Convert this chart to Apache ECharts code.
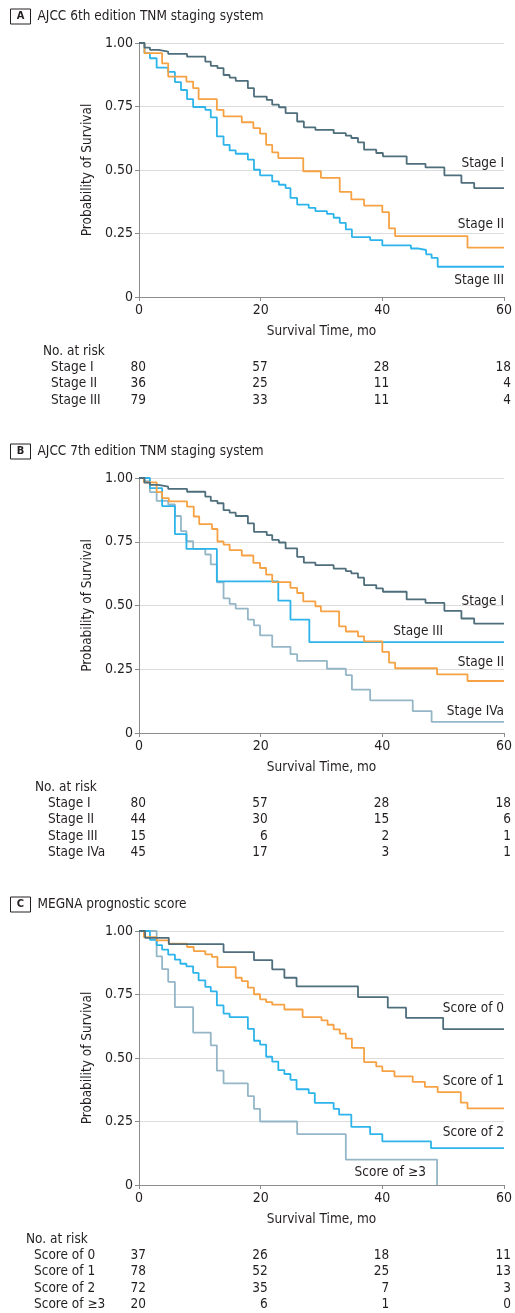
<!DOCTYPE html>
<html>
<head>
<meta charset="utf-8">
<script src="https://cdn.jsdelivr.net/npm/echarts@6/dist/echarts.min.js"></script>
<style>
html, body { margin: 0; padding: 0; background: #fff; }
#chart { width: 515px; height: 1313px; }
</style>
</head>
<body>
<div id="chart"></div>
<script>
// ---- data ----
var riskTimes = [0, 20, 40, 60];

// A: AJCC 6th edition
var groupsA = ['Stage I', 'Stage II', 'Stage III'];
var a6StageI = [[0,1],[0.9,0.982],[1.8,0.973],[3.2,0.966],[4.8,0.957],[7.9,0.946],[10.9,0.927],[11.8,0.910],[12.9,0.901],[13.9,0.874],[14.9,0.864],[15.9,0.851],[17.9,0.822],[18.9,0.789],[21.0,0.776],[21.9,0.757],[23.0,0.747],[24.1,0.724],[26.0,0.691],[27.1,0.668],[29.0,0.658],[32.0,0.645],[34.0,0.635],[34.9,0.626],[36.0,0.609],[37.0,0.580],[39.0,0.567],[40.1,0.554],[44.0,0.524],[47.1,0.510],[50.2,0.479],[53.0,0.449],[55.1,0.429],[60,0.429]];
var a6StageII = [[0,1],[0.9,0.96],[3.8,0.92],[4.8,0.868],[7.8,0.848],[8.9,0.822],[9.8,0.779],[12.8,0.737],[13.9,0.711],[16.9,0.688],[18.8,0.665],[19.9,0.643],[20.9,0.599],[21.9,0.569],[22.9,0.547],[27.0,0.495],[29.9,0.469],[33.0,0.414],[34.9,0.384],[37.0,0.360],[40.0,0.334],[41.1,0.270],[42.1,0.240],[54.0,0.194],[60,0.194]];
var a6StageIII = [[0,1],[0.9,0.96],[1.8,0.94],[2.9,0.903],[4.8,0.886],[5.9,0.846],[6.9,0.815],[7.9,0.779],[8.9,0.748],[10.9,0.737],[11.8,0.707],[12.8,0.632],[13.9,0.599],[14.9,0.577],[15.9,0.564],[17.9,0.541],[18.9,0.501],[19.9,0.479],[21.9,0.455],[23.0,0.442],[24.1,0.429],[24.9,0.390],[26.0,0.364],[27.9,0.351],[29.0,0.338],[30.9,0.327],[32.0,0.312],[33.0,0.292],[34.0,0.266],[35.0,0.236],[38.0,0.224],[40.0,0.203],[44.7,0.191],[45.8,0.185],[47.2,0.168],[48.1,0.154],[49.1,0.119],[60,0.119]];
var riskA = [[80, 57, 28, 18], [36, 25, 11, 4], [79, 33, 11, 4]];

// B: AJCC 7th edition (stage I curve is the same cohort as in A)
var groupsB = ['Stage I', 'Stage II', 'Stage III', 'Stage IVa'];
var b7StageI = a6StageI;
var b7StageII = [[0,1],[0.8,0.983],[2.9,0.945],[3.8,0.921],[4.9,0.908],[7.9,0.888],[9.0,0.849],[9.9,0.819],[12.0,0.800],[12.9,0.751],[13.9,0.739],[14.9,0.717],[16.9,0.696],[18.8,0.667],[19.9,0.647],[20.9,0.621],[21.9,0.592],[24.9,0.569],[26.0,0.549],[27.0,0.516],[29.0,0.497],[29.9,0.477],[32.9,0.418],[34.0,0.398],[36.0,0.379],[37.0,0.359],[40.0,0.318],[41.1,0.276],[42.1,0.254],[49.0,0.230],[54.0,0.204],[60,0.204]];
var b7StageIII = [[0,1],[1.8,0.96],[3.8,0.89],[5.9,0.78],[7.8,0.722],[12.8,0.595],[22.9,0.519],[24.9,0.445],[28.0,0.356],[60,0.356]];
var b7StageIVa = [[0,1],[0.9,0.988],[1.8,0.945],[2.9,0.91],[4.8,0.896],[5.9,0.851],[6.9,0.792],[7.8,0.752],[8.9,0.722],[10.9,0.700],[11.8,0.661],[12.8,0.591],[13.9,0.528],[14.9,0.506],[15.9,0.488],[17.9,0.445],[18.9,0.422],[19.9,0.383],[21.9,0.338],[24.9,0.309],[26.0,0.283],[30.9,0.252],[34.0,0.227],[35.0,0.170],[38.0,0.128],[45.0,0.086],[48.1,0.044],[60,0.044]];
var riskB = [[80, 57, 28, 18], [44, 30, 15, 6], [15, 6, 2, 1], [45, 17, 3, 1]];

// C: MEGNA prognostic score
var groupsC = ['Score of 0', 'Score of 1', 'Score of 2', 'Score of \u22653'];
var cScore0 = [[0,1],[1.0,0.973],[4.9,0.948],[13.9,0.917],[18.9,0.885],[21.9,0.849],[23.9,0.816],[25.9,0.782],[36.0,0.740],[40.9,0.698],[43.9,0.658],[50.0,0.614],[60,0.614]];
var cScore1 = [[0,1],[0.8,0.976],[2.9,0.963],[4.9,0.950],[7.9,0.937],[9.0,0.921],[10.9,0.908],[12.0,0.898],[12.9,0.858],[15.9,0.816],[16.9,0.803],[17.9,0.777],[18.9,0.751],[19.9,0.731],[20.9,0.720],[21.9,0.710],[23.9,0.691],[26.9,0.661],[30.0,0.648],[31.0,0.631],[32.0,0.613],[33.0,0.596],[34.0,0.576],[35.0,0.540],[37.0,0.484],[39.0,0.467],[40.0,0.448],[42.0,0.428],[45.0,0.406],[47.0,0.386],[49.1,0.366],[52.9,0.324],[54.0,0.302],[60,0.302]];
var cScore2 = [[0,1],[1.8,0.965],[2.9,0.944],[3.8,0.927],[4.8,0.907],[5.9,0.887],[6.8,0.871],[7.8,0.861],[8.9,0.835],[9.8,0.806],[10.9,0.780],[11.8,0.762],[12.8,0.707],[13.9,0.675],[14.9,0.661],[17.9,0.615],[18.9,0.568],[19.9,0.553],[20.9,0.505],[21.9,0.486],[22.9,0.452],[23.9,0.437],[24.9,0.414],[25.9,0.377],[27.9,0.362],[28.9,0.323],[32.0,0.300],[32.9,0.277],[34.9,0.229],[38.0,0.200],[40.0,0.172],[48.0,0.145],[60,0.145]];
var cScore3 = [[0,1],[2.9,0.90],[3.8,0.85],[4.8,0.80],[5.9,0.70],[8.9,0.60],[11.8,0.55],[12.8,0.45],[13.9,0.40],[17.9,0.35],[18.9,0.30],[19.9,0.25],[26.0,0.20],[34.0,0.10],[49.0,0]];
var riskC = [[37, 26, 18, 11], [78, 52, 25, 13], [72, 35, 7, 3], [20, 6, 1, 0]];

// ---- styling / layout ----
var FONT = "'Liberation Sans Narrow', 'DejaVu Sans Condensed', 'Noto Sans', sans-serif";
var FS = 13.5;
var TEXT = '#231f20';
var AXIS = '#8c8c8c';
var DARK = '#4e6e7c', ORANGE = '#f6a244', BLUE = '#2db4ea', GRAY = '#94b6c7';

var panels = [
    { letter: 'A', title: 'AJCC 6th edition TNM staging system', top: 43, height: 254,
      curves: [a6StageI, a6StageII, a6StageIII], colors: [DARK, ORANGE, BLUE],
      groups: groupsA, risk: riskA, headX: 43, rowX: 51,
      // label anchor in data units: [month, survival, align]
      labels: [[60, 0.525, 'right'], [60, 0.286, 'right'], [60, 0.066, 'right']] },
    { letter: 'B', title: 'AJCC 7th edition TNM staging system', top: 478, height: 255,
      curves: [b7StageI, b7StageII, b7StageIII, b7StageIVa], colors: [DARK, ORANGE, BLUE, GRAY],
      groups: groupsB, risk: riskB, headX: 35, rowX: 48,
      labels: [[60, 0.515, 'right'], [60, 0.278, 'right'], [45.9, 0.397, 'center'], [60, 0.085, 'right']] },
    { letter: 'C', title: 'MEGNA prognostic score', top: 931, height: 254,
      curves: [cScore0, cScore1, cScore2, cScore3], colors: [DARK, ORANGE, BLUE, GRAY],
      groups: groupsC, risk: riskC, headX: 26, rowX: 34,
      labels: [[60, 0.694, 'right'], [60, 0.406, 'right'], [60, 0.206, 'right'], [41.3, 0.049, 'center']] }
];

var chart = echarts.init(document.getElementById('chart'));

function buildOption() {
    var grid = [], xAxis = [], yAxis = [], series = [];
    panels.forEach(function (p, i) {
        grid.push({ left: 139, top: p.top, width: 368, height: p.height });
        xAxis.push({
            gridIndex: i, type: 'value', min: 0, max: 60, interval: 20,
            name: 'Survival Time, mo', nameLocation: 'middle', nameGap: 27,
            nameTextStyle: { fontFamily: FONT, fontSize: FS, color: TEXT },
            axisLine: { show: true, lineStyle: { color: AXIS, width: 1 } },
            axisTick: { show: true, length: 4, lineStyle: { color: AXIS } },
            axisLabel: { margin: 6, fontFamily: FONT, fontSize: 14, color: TEXT },
            splitLine: { show: false }
        });
        yAxis.push({
            gridIndex: i, type: 'value', min: 0, max: 1, interval: 0.25,
            name: 'Probability of Survival', nameLocation: 'middle', nameGap: 35,
            nameTextStyle: { fontFamily: FONT, fontSize: FS, color: TEXT },
            axisLine: { show: true, lineStyle: { color: AXIS, width: 1 } },
            axisTick: { show: true, length: 4, lineStyle: { color: AXIS } },
            axisLabel: {
                margin: 6, fontFamily: FONT, fontSize: 14, color: TEXT,
                formatter: function (v) { return v === 0 ? '0' : v.toFixed(2); }
            },
            splitLine: { show: true, lineStyle: { color: '#dcdcdc', width: 1 } }
        });
        p.curves.forEach(function (d, k) {
            series.push({
                name: p.groups[k], type: 'line', step: 'end',
                xAxisIndex: i, yAxisIndex: i, data: d,
                symbol: 'none', showSymbol: false,
                lineStyle: { color: p.colors[k], width: 1.8 },
                itemStyle: { color: p.colors[k] },
                z: 3 + (p.curves.length - k)
            });
        });
    });
    return { animation: false, grid: grid, xAxis: xAxis, yAxis: yAxis, series: series };
}

function txt(x, y, s, align, extra) {
    var style = { text: s, x: x, y: y, fill: TEXT, font: FS + 'px ' + FONT,
                  textAlign: align || 'left', textVerticalAlign: 'middle' };
    if (extra) for (var k in extra) style[k] = extra[k];
    return { type: 'text', silent: true, z: 10, style: style };
}

function buildGraphic() {
    var g = [];
    panels.forEach(function (p, i) {
        var bottom = p.top + p.height;
        var head = p.top - 26.5;
        // panel letter box + title
        g.push({ type: 'rect', silent: true, shape: { x: 10.5, y: head - 7.5, width: 20, height: 15 },
                 style: { fill: 'none', stroke: TEXT, lineWidth: 1 } });
        g.push(txt(20.5, head, p.letter, 'center', { font: 'bold 11px ' + FONT }));
        g.push(txt(37.5, head, p.title, 'left'));
        // curve labels
        p.labels.forEach(function (l, k) {
            var px = chart.convertToPixel({ xAxisIndex: i, yAxisIndex: i }, [l[0], l[1]]);
            g.push(txt(px[0], px[1], p.groups[k], l[2]));
        });
        // number at risk table
        g.push(txt(p.headX, bottom + 54, 'No. at risk', 'left'));
        p.risk.forEach(function (row, r) {
            var y = bottom + 70.5 + r * 16.4;
            g.push(txt(p.rowX, y, p.groups[r], 'left'));
            row.forEach(function (n, c) {
                var x = chart.convertToPixel({ xAxisIndex: i }, riskTimes[c]);
                g.push(txt(x + 7, y, String(n), 'right'));
            });
        });
    });
    return g;
}

chart.setOption(buildOption());
chart.setOption({ graphic: buildGraphic() });
</script>
</body>
</html>
